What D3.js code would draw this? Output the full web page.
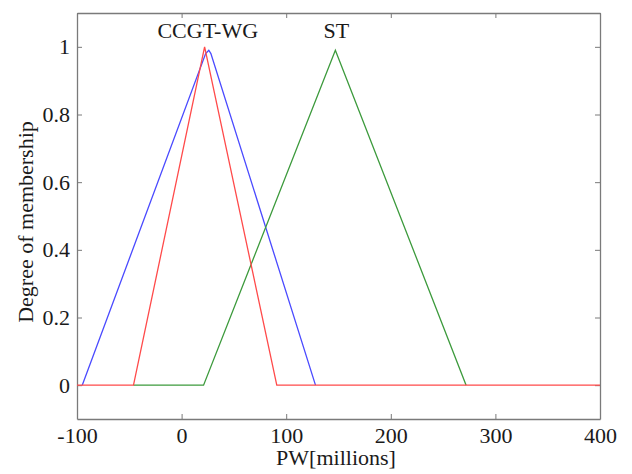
<!DOCTYPE html>
<html>
<head>
<meta charset="utf-8">
<script src="https://cdn.jsdelivr.net/npm/d3@7"></script>
<style>
body { margin: 0; background: #fff; }
text { font-family: "Liberation Serif", "Times New Roman", serif; fill: #1a1a1a; }
</style>
</head>
<body>
<div id="graph"></div>
<script>
// membership functions, [PW, degree]; zero tails hidden under the red line are left out
var blueSeries = [[-95, 0], [23, 0.98], [26, 0.99], [28, 0.98], [128, 0]];
var greenSeries = [[-46, 0], [21, 0], [147, 0.99], [272, 0]];
var redSeries = [[-100, 0], [-46, 0], [22, 1.0], [91, 0], [400, 0]];
var xTicks = [-100, 0, 100, 200, 300, 400];
var yTicks = [0, 0.2, 0.4, 0.6, 0.8, 1];
var labels = [{name: "CCGT-WG", x: 25}, {name: "ST", x: 148}];

var W = 632, H = 474;
var m = {left: 77, right: 32, top: 13, bottom: 55};
var fs = 22;

var svg = d3.select("#graph").append("svg")
  .attr("width", W).attr("height", H);

var x = d3.scaleLinear().domain([-100, 400]).range([m.left, W - m.right]);
var y = d3.scaleLinear().domain([-0.1, 1.1]).range([H - m.bottom, m.top]);

var line = d3.line()
  .x(function(d) { return x(d[0]); })
  .y(function(d) { return y(d[1]); });

var g = svg.append("g");

// axes, ticks inward on all four sides
var tl = 5;
g.append("g").attr("transform", "translate(0," + (H - m.bottom) + ")")
  .call(d3.axisBottom(x).tickValues(xTicks).tickSizeInner(-tl).tickSizeOuter(0).tickPadding(8)
    .tickFormat(function(d) { return String(d); }));
g.append("g").attr("transform", "translate(0," + m.top + ")")
  .call(d3.axisTop(x).tickValues(xTicks).tickSizeInner(-tl).tickSizeOuter(0).tickFormat(""));
g.append("g").attr("transform", "translate(" + m.left + ",0)")
  .call(d3.axisLeft(y).tickValues(yTicks).tickSizeInner(-tl).tickSizeOuter(0).tickPadding(7)
    .tickFormat(function(d) { return d === 0 || d === 1 ? String(d) : d.toFixed(1); }));
g.append("g").attr("transform", "translate(" + (W - m.right) + ",0)")
  .call(d3.axisRight(y).tickValues(yTicks).tickSizeInner(-tl).tickSizeOuter(0).tickFormat(""));

g.selectAll("g").attr("font-size", fs).attr("font-family", "Liberation Serif");
g.selectAll(".domain").attr("stroke", "#7a7a7a").attr("stroke-width", 1.3);
g.selectAll(".tick line").attr("stroke", "#7a7a7a");
g.selectAll(".tick text").attr("fill", "#1a1a1a");

var series = [
  {data: blueSeries, color: "#4a4aff"},
  {data: greenSeries, color: "#3c9a3c"},
  {data: redSeries, color: "#ff4a4a"}
];
svg.selectAll("path.series")
  .data(series)
  .enter()
  .append("path")
  .attr("class", "series")
  .attr("d", function(d) { return line(d.data); })
  .attr("fill", "none")
  .attr("stroke", function(d) { return d.color; })
  .attr("stroke-width", 1.3);

svg.selectAll("text.lbl")
  .data(labels)
  .enter()
  .append("text")
  .attr("class", "lbl")
  .attr("x", function(d) { return x(d.x); })
  .attr("y", 38)
  .attr("text-anchor", "middle")
  .attr("font-size", fs)
  .text(function(d) { return d.name; });

svg.append("text")
  .attr("x", 336)
  .attr("y", 465)
  .attr("text-anchor", "middle")
  .attr("font-size", fs)
  .text("PW[millions]");

svg.append("text")
  .attr("transform", "translate(33,222) rotate(-90)")
  .attr("text-anchor", "middle")
  .attr("font-size", fs)
  .text("Degree of membership");
</script>
</body>
</html>
